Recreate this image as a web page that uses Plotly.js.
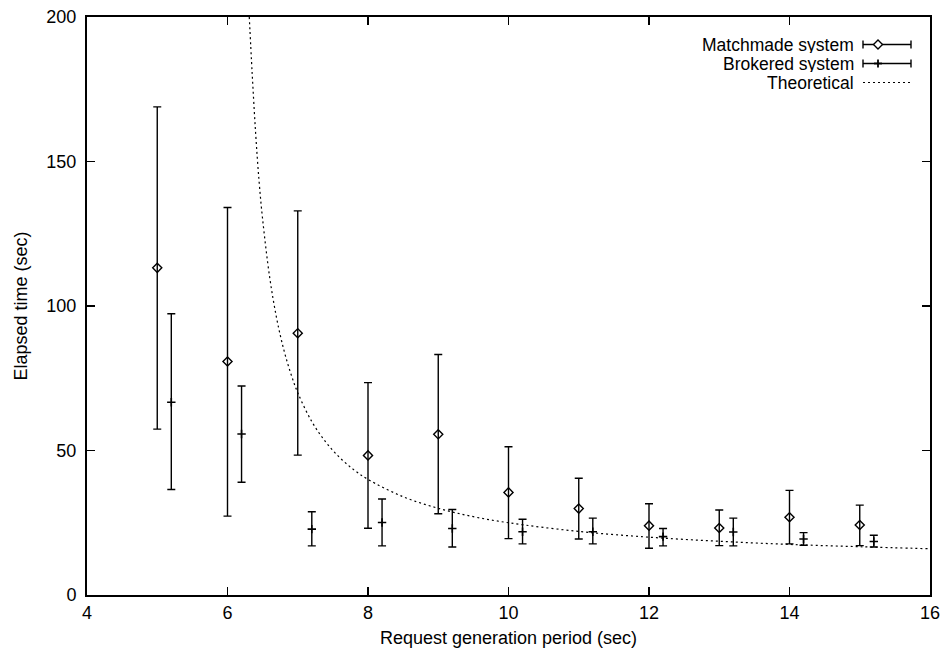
<!DOCTYPE html>
<html>
<head>
<meta charset="utf-8">
<script src="https://cdn.plot.ly/plotly-3.0.1.min.js"></script>
<style>html,body{margin:0;padding:0;background:#fff;}#chart{width:943px;height:658px;}</style>
</head>
<body>
<div id="chart"></div>
<script>
// ---- data ----
const periods = [5, 6, 7, 8, 9, 10, 11, 12, 13, 14, 15];
const matchmadeMean = [113.2, 80.8, 90.6, 48.3, 55.6, 35.5, 29.9, 24.0, 23.2, 26.9, 24.2];
const matchmadeHigh = [168.9, 134.1, 132.9, 73.5, 83.2, 51.3, 40.4, 31.6, 29.4, 36.2, 31.1];
const matchmadeLow  = [57.4, 27.3, 48.4, 23.1, 28.1, 19.5, 19.4, 16.2, 17.1, 17.7, 17.1];

const brokeredPeriods = [5.2, 6.2, 7.2, 8.2, 9.2, 10.2, 11.2, 12.2, 13.2, 14.2, 15.2];
const brokeredMean = [66.7, 55.7, 22.8, 25.1, 23.0, 21.9, 21.9, 20.2, 21.8, 19.4, 18.5];
const brokeredHigh = [97.3, 72.3, 28.8, 33.2, 29.6, 26.2, 26.6, 23.0, 26.6, 21.6, 20.7];
const brokeredLow  = [36.5, 39.0, 17.0, 17.0, 16.6, 17.7, 17.7, 17.0, 17.0, 17.2, 16.6];

const theoX = [6.31, 6.35, 6.4, 6.45, 6.5, 6.6, 6.7, 6.8, 6.9, 7.0, 7.2, 7.4, 7.6, 7.8, 8, 8.5, 9, 9.5, 10, 11, 12, 13, 14, 15, 16];
const theoY = [200, 181, 160, 143, 130, 110, 95.7, 85, 76.7, 70, 60, 52.9, 47.5, 43.3, 40, 34, 30, 27.1, 25, 22, 20, 18.6, 17.5, 16.7, 16];

const seriesNames = ["Matchmade system", "Brokered system", "Theoretical"];
const xTickVals = [4, 6, 8, 10, 12, 14, 16];
const yTickVals = [0, 50, 100, 150, 200];

// ---- layout constants ----
const W = 943, H = 658;
const M = {l: 87, r: 13, t: 17, b: 63};
const pw = W - M.l - M.r, ph = H - M.t - M.b;
const px2x = px => (px - M.l) / pw;
const py2y = py => (H - M.b - py) / ph;
const FONT = "'Liberation Sans', Arial, Helvetica, sans-serif";

const errStyle = {color: '#000', thickness: 1.4, width: 4};

const traces = [
  {
    type: 'scatter', mode: 'markers', name: seriesNames[0], showlegend: false,
    x: periods, y: matchmadeMean,
    marker: {symbol: 'diamond-open', size: 7, color: '#000', line: {width: 1.4, color: '#000'}},
    error_y: Object.assign({type: 'data', symmetric: false,
      array: matchmadeHigh.map((h, i) => h - matchmadeMean[i]),
      arrayminus: matchmadeLow.map((l, i) => matchmadeMean[i] - l)}, errStyle)
  },
  {
    type: 'scatter', mode: 'markers', name: seriesNames[1], showlegend: false,
    x: brokeredPeriods, y: brokeredMean,
    marker: {symbol: 'cross-thin-open', size: 6, color: '#000', line: {width: 1.6, color: '#000'}},
    error_y: Object.assign({type: 'data', symmetric: false,
      array: brokeredHigh.map((h, i) => h - brokeredMean[i]),
      arrayminus: brokeredLow.map((l, i) => brokeredMean[i] - l)}, errStyle)
  },
  {
    type: 'scatter', mode: 'lines', name: seriesNames[2], showlegend: false,
    x: theoX, y: theoY,
    line: {color: '#000', width: 1.2, dash: '2px,3px', shape: 'spline', smoothing: 1}
  }
];

// ---- gnuplot-style key: text right-aligned, sample on the right ----
const keyRowsPx = [44.5, 63.5, 82.5];
const keyTextRight = 855;
const keySample = [863, 911];
const keyPoint = 878;
const annotations = [];
const shapes = [];
const lineK = {color: '#000', width: 1.4};
seriesNames.forEach((name, i) => {
  annotations.push({
    xref: 'paper', yref: 'paper', x: px2x(keyTextRight), y: py2y(keyRowsPx[i]),
    xanchor: 'right', yanchor: 'middle', text: name, showarrow: false,
    height: 17, valign: 'middle', borderpad: 0,
    font: {family: FONT, size: 17.5, color: '#000'}
  });
  const y0 = py2y(keyRowsPx[i]);
  const xa = px2x(keySample[0]), xb = px2x(keySample[1]);
  if (i < 2) {
    const cap = 4 / ph;
    shapes.push({type: 'line', xref: 'paper', yref: 'paper', x0: xa, x1: xb, y0: y0, y1: y0, line: lineK});
    shapes.push({type: 'line', xref: 'paper', yref: 'paper', x0: xa, x1: xa, y0: y0 - cap, y1: y0 + cap, line: lineK});
    shapes.push({type: 'line', xref: 'paper', yref: 'paper', x0: xb, x1: xb, y0: y0 - cap, y1: y0 + cap, line: lineK});
    const cx = px2x(keyPoint);
    if (i === 0) {
      const dx = 4.5 / pw, dy = 4.5 / ph;
      shapes.push({type: 'path', xref: 'paper', yref: 'paper',
        path: `M ${cx - dx} ${y0} L ${cx} ${y0 + dy} L ${cx + dx} ${y0} L ${cx} ${y0 - dy} Z`,
        fillcolor: '#fff', line: lineK});
    } else {
      const dx = 4 / pw, dy = 4 / ph;
      shapes.push({type: 'line', xref: 'paper', yref: 'paper', x0: cx, x1: cx, y0: y0 - dy, y1: y0 + dy, line: {color: '#000', width: 1.8}});
      shapes.push({type: 'line', xref: 'paper', yref: 'paper', x0: cx - dx, x1: cx + dx, y0: y0, y1: y0, line: {color: '#000', width: 1.8}});
    }
  } else {
    shapes.push({type: 'line', xref: 'paper', yref: 'paper', x0: xa, x1: xb, y0: y0, y1: y0,
      line: {color: '#000', width: 1.2, dash: '2px,3px'}});
  }
});

const axisCommon = {
  showgrid: false, zeroline: false, showline: true, linecolor: '#000', linewidth: 2,
  mirror: 'ticks', ticks: 'inside', ticklen: 8, tickwidth: 1.5, tickcolor: '#000',
  tickfont: {family: FONT, size: 18, color: '#000'}
};

const layout = {
  width: W, height: H,
  margin: M,
  paper_bgcolor: '#fff', plot_bgcolor: '#fff',
  showlegend: false,
  font: {family: FONT, size: 18, color: '#000'},
  xaxis: Object.assign({}, axisCommon, {
    range: [4, 16], tickvals: xTickVals, ticktext: xTickVals.map(String),
    title: {text: 'Request generation period (sec)', font: {family: FONT, size: 18, color: '#000'}, standoff: 10}
  }),
  yaxis: Object.assign({}, axisCommon, {
    range: [0, 200], tickvals: yTickVals, ticktext: yTickVals.map(String),
    ticklabelstandoff: 5,
    title: {text: 'Elapsed time (sec)', font: {family: FONT, size: 18, color: '#000'}, standoff: 14}
  }),
  annotations: annotations,
  shapes: shapes
};

Plotly.newPlot('chart', traces, layout, {staticPlot: true, displayModeBar: false});
</script>
</body>
</html>
